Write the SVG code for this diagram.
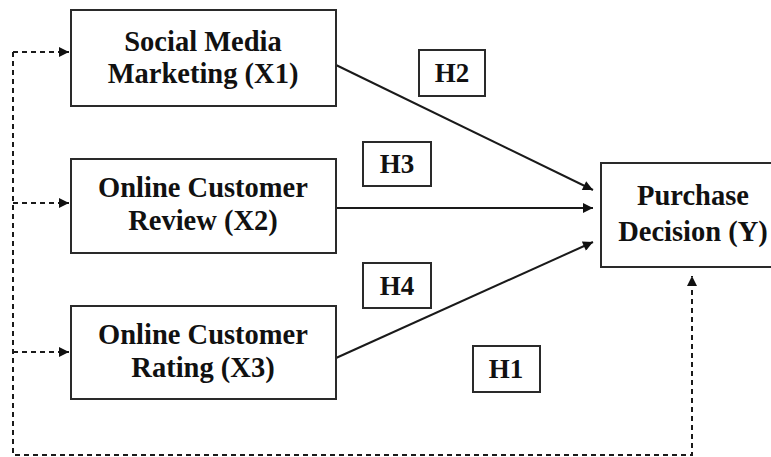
<svg xmlns="http://www.w3.org/2000/svg" width="771" height="457" viewBox="0 0 771 457">
<style>
.box{fill:#fff;stroke:#2a2a2a;stroke-width:2}
.t{font-family:"Liberation Serif","Times New Roman",serif;font-weight:bold;font-size:28.5px;fill:#111;text-anchor:middle}
.h{font-family:"Liberation Serif","Times New Roman",serif;font-weight:bold;font-size:27px;fill:#111;text-anchor:middle}
.c{stroke:#1a1a1a;stroke-width:2;fill:none}
.d{stroke:#1a1a1a;stroke-width:2;fill:none;stroke-dasharray:5 4}
</style>
<defs>
<marker id="ah" viewBox="0 0 10 10" refX="10" refY="5" markerWidth="13" markerHeight="10" markerUnits="userSpaceOnUse" orient="auto">
<path d="M0,0 L10,5 L0,10 Z" fill="#111"/>
</marker>
</defs>
<g id="connectors">
<line class="c" x1="336" y1="65" x2="593" y2="190" marker-end="url(#ah)"/>
<line class="c" x1="336" y1="208" x2="593" y2="208" marker-end="url(#ah)"/>
<line class="c" x1="336" y1="358" x2="593" y2="242" marker-end="url(#ah)"/>
<polyline class="d" points="13,52 13,455 692,455 692,276" marker-end="url(#ah)"/>
<line class="d" x1="13" y1="52" x2="69" y2="52" marker-end="url(#ah)"/>
<line class="d" x1="13" y1="203" x2="69" y2="203" marker-end="url(#ah)"/>
<line class="d" x1="13" y1="352" x2="69" y2="352" marker-end="url(#ah)"/>
</g>
<g id="x1">
<rect class="box" x="71" y="10" width="265" height="96"/>
<text class="t" x="203" y="51">Social Media</text>
<text class="t" x="203" y="83">Marketing (X1)</text>
</g>
<g id="x2">
<rect class="box" x="71" y="159" width="265" height="94"/>
<text class="t" x="203" y="197">Online Customer</text>
<text class="t" x="203" y="230">Review (X2)</text>
</g>
<g id="x3">
<rect class="box" x="71" y="306" width="265" height="93"/>
<text class="t" x="203" y="344">Online Customer</text>
<text class="t" x="203" y="377">Rating (X3)</text>
</g>
<g id="y">
<rect class="box" x="601" y="163" width="176" height="104"/>
<text class="t" x="693" y="205">Purchase</text>
<text class="t" x="693" y="241">Decision (Y)</text>
</g>
<g id="h2">
<rect class="box" x="419" y="50" width="66" height="46"/>
<text class="h" x="452" y="82">H2</text>
</g>
<g id="h3">
<rect class="box" x="363" y="142" width="68" height="44"/>
<text class="h" x="397" y="173">H3</text>
</g>
<g id="h4">
<rect class="box" x="363" y="263" width="68" height="45"/>
<text class="h" x="397" y="295">H4</text>
</g>
<g id="h1">
<rect class="box" x="473" y="346" width="67" height="46"/>
<text class="h" x="506" y="378">H1</text>
</g>
</svg>
